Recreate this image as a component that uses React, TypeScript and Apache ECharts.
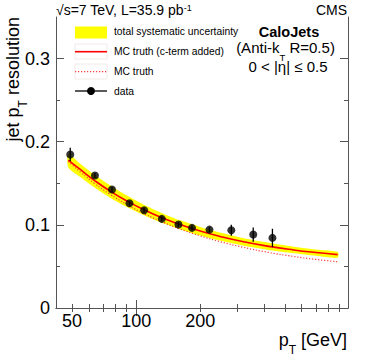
import React, { useEffect, useRef } from "react";
import * as echarts from "echarts";

// ---- data ----
const dataPt = [49, 64, 77, 93, 109, 132, 158, 183, 221, 280, 355, 437];
const dataRes = [0.1847, 0.1594, 0.1425, 0.126, 0.1176, 0.1072, 0.1004, 0.0964, 0.0943, 0.0935, 0.0883, 0.0843];
const dataErr = [0.008, 0.003, 0.003, 0.003, 0.003, 0.003, 0.003, 0.003, 0.003, 0.0065, 0.0085, 0.011];

const curvePt = [48, 55, 64, 75, 90, 110, 135, 160, 200, 250, 320, 420, 550, 700, 885];
const mcCterm = [0.178, 0.166, 0.153, 0.141, 0.129, 0.1175, 0.1076, 0.1005, 0.0925, 0.0858, 0.0796, 0.0741, 0.0698, 0.0667, 0.0642];
const mcTruth = [0.176, 0.163, 0.1495, 0.1372, 0.1248, 0.113, 0.1027, 0.0952, 0.0868, 0.0796, 0.0729, 0.0668, 0.062, 0.0584, 0.0556];
const bandLow = [0.169, 0.157, 0.1445, 0.133, 0.1218, 0.111, 0.1015, 0.0948, 0.0872, 0.0808, 0.0749, 0.0698, 0.0658, 0.0628, 0.0604];
const bandHigh = [0.185, 0.173, 0.16, 0.148, 0.1355, 0.1235, 0.1132, 0.1057, 0.0975, 0.0905, 0.0839, 0.0784, 0.0738, 0.0705, 0.0675];

const xLabelValues = [50, 100, 200];
const xMinorTicks = [50, 60, 70, 80, 90, 200, 300, 400, 500, 600, 700, 800, 900];
const xMajorTicks = [100];
const yLabelValues = [0, 0.1, 0.2, 0.3];
const yMinorTicks = [0.05, 0.15, 0.25];

const X_MIN = 42;
const X_MAX = 990;
const Y_MIN = 0;
const Y_MAX = 0.35;

const FONT = "'Liberation Sans', Arial, Helvetica, sans-serif";
const AXIS_COLOR = "#555";

export default function App() {
  const ref = useRef<HTMLDivElement>(null);

  useEffect(() => {
    if (!ref.current) return;
    const chart = echarts.init(ref.current, null, { renderer: "svg" });

    const xAxisBase = (position: string, ticks: number[], len: number, showLine: boolean, labels: boolean) => ({
      type: "log",
      min: X_MIN,
      max: X_MAX,
      position,
      z: 10,
      axisLine: { show: showLine, lineStyle: { color: AXIS_COLOR, width: 1 } },
      axisTick: { show: true, inside: true, length: len, customValues: ticks, lineStyle: { color: AXIS_COLOR, width: 1 } },
      axisLabel: labels
        ? {
            show: true,
            customValues: xLabelValues,
            fontSize: 18,
            fontFamily: FONT,
            color: "#000",
            margin: 4,
            formatter: (v: number) => String(Math.round(v)),
          }
        : { show: false },
      splitLine: { show: false },
      minorTick: { show: false },
    });

    const yAxisBase = (position: string, ticks: number[], len: number, showLine: boolean, labels: boolean) => ({
      type: "value",
      min: Y_MIN,
      max: Y_MAX,
      position,
      z: 10,
      axisLine: { show: showLine, lineStyle: { color: AXIS_COLOR, width: 1 } },
      axisTick: { show: true, inside: true, length: len, customValues: ticks, lineStyle: { color: AXIS_COLOR, width: 1 } },
      axisLabel: labels
        ? {
            show: true,
            customValues: yLabelValues,
            fontSize: 18,
            fontFamily: FONT,
            color: "#000",
            margin: 6,
            formatter: (v: number) => (v === 0 ? "0" : v.toFixed(1)),
          }
        : { show: false },
      splitLine: { show: false },
      minorTick: { show: false },
    });

    const curve = (vals: number[]) => curvePt.map((p, i) => [p, vals[i]]);

    const option: any = {
      animation: false,
      backgroundColor: "#fff",
      grid: { left: 56, right: 26, top: 17, bottom: 55, containLabel: false },
      xAxis: [
        xAxisBase("bottom", xMinorTicks, 4, true, true),
        xAxisBase("bottom", xMajorTicks, 8, false, false),
        xAxisBase("top", xMinorTicks, 4, true, false),
        xAxisBase("top", xMajorTicks, 8, false, false),
      ],
      yAxis: [
        yAxisBase("left", yLabelValues, 8, true, true),
        yAxisBase("left", yMinorTicks, 4, false, false),
        yAxisBase("right", yLabelValues, 8, true, false),
        yAxisBase("right", yMinorTicks, 4, false, false),
      ],
      series: [
        {
          type: "custom",
          name: "total systematic uncertainty",
          data: curvePt.map((p, i) => [p, bandLow[i], bandHigh[i]]),
          encode: { x: 0, y: [1, 2] },
          renderItem: (params: any, api: any) => {
            if (params.dataIndex !== 0) return null;
            const upper = curvePt.map((p, i) => api.coord([p, bandHigh[i]]));
            const lower = curvePt.map((p, i) => api.coord([p, bandLow[i]])).reverse();
            return {
              type: "polygon",
              shape: { points: upper.concat(lower), smooth: 0.25 },
              style: { fill: "#ffff00", stroke: "none" },
            };
          },
          silent: true,
          z: 1,
        },
        {
          type: "line",
          name: "MC truth",
          data: curve(mcTruth),
          smooth: true,
          symbol: "none",
          lineStyle: { color: "#ff3b3b", width: 1.2, type: [1.2, 1.8] },
          silent: true,
          z: 2,
        },
        {
          type: "line",
          name: "MC truth (c-term added)",
          data: curve(mcCterm),
          smooth: true,
          symbol: "none",
          lineStyle: { color: "#ff0000", width: 1.6 },
          silent: true,
          z: 3,
        },
        {
          type: "custom",
          name: "errors",
          data: dataPt.map((p, i) => [p, dataRes[i], dataErr[i]]),
          encode: { x: 0, y: 1 },
          renderItem: (params: any, api: any) => {
            const x = api.value(0);
            const y = api.value(1);
            const e = api.value(2);
            const a = api.coord([x, y + e]);
            const b = api.coord([x, y - e]);
            return {
              type: "line",
              shape: { x1: a[0], y1: a[1], x2: b[0], y2: b[1] },
              style: { stroke: "#000", lineWidth: 1.3 },
            };
          },
          silent: true,
          z: 4,
        },
        {
          type: "scatter",
          name: "data",
          data: dataPt.map((p, i) => [p, dataRes[i]]),
          symbol: "circle",
          symbolSize: 8,
          itemStyle: { color: "#000" },
          silent: true,
          z: 5,
        },
      ],
      graphic: [
        {
          type: "text",
          x: 56,
          y: 10,
          style: {
            text: "√s=7 TeV, L=35.9 pb{sup|-1}",
            fontSize: 14,
            fontFamily: FONT,
            fill: "#000",
            align: "left",
            verticalAlign: "middle",
            rich: { sup: { fontSize: 9, fontFamily: FONT, verticalAlign: "top", fill: "#000" } },
          },
        },
        {
          type: "text",
          x: 347,
          y: 10,
          style: { text: "CMS", fontSize: 14, fontFamily: FONT, fill: "#000", align: "right", verticalAlign: "middle" },
        },
        {
          type: "text",
          x: 13,
          y: 17,
          rotation: Math.PI / 2,
          style: {
            text: "jet p{sub|T} resolution",
            fontSize: 18,
            fontFamily: FONT,
            fill: "#000",
            align: "right",
            verticalAlign: "middle",
            rich: { sub: { fontSize: 12, fontFamily: FONT, verticalAlign: "top", padding: [20, 0, 0, 0], fill: "#000" } },
          },
        },
        {
          type: "text",
          x: 347,
          y: 340,
          style: {
            text: "p{sub|T} [GeV]",
            fontSize: 18,
            fontFamily: FONT,
            fill: "#000",
            align: "right",
            verticalAlign: "middle",
            rich: { sub: { fontSize: 12, fontFamily: FONT, verticalAlign: "top", padding: [20, 0, 0, 0], fill: "#000" } },
          },
        },
        {
          type: "text",
          x: 289,
          y: 31.5,
          style: { text: "CaloJets", fontSize: 14.5, fontWeight: "bold", fontFamily: FONT, fill: "#000", align: "center", verticalAlign: "middle" },
        },
        {
          type: "text",
          x: 285.5,
          y: 47.5,
          style: {
            text: "(Anti-k{sub|T} R=0.5)",
            fontSize: 15,
            fontFamily: FONT,
            fill: "#000",
            align: "center",
            verticalAlign: "middle",
            rich: { sub: { fontSize: 9.5, lineHeight: 9, fontFamily: FONT, verticalAlign: "top", padding: [12, 0, 0, 0], fill: "#000" } },
          },
        },
        {
          type: "text",
          x: 288,
          y: 66,
          style: { text: "0 < |η| ≤ 0.5", fontSize: 15, fontFamily: FONT, fill: "#000", align: "center", verticalAlign: "middle" },
        },
        { type: "rect", shape: { x: 75, y: 26.5, width: 32, height: 12 }, style: { fill: "#ffff00" } },
        { type: "rect", shape: { x: 75, y: 44, width: 32, height: 15 }, style: { fill: "none", stroke: "#f3eaea", lineWidth: 1 } },
        { type: "line", shape: { x1: 75, y1: 51.7, x2: 107, y2: 51.7 }, style: { stroke: "#ff0000", lineWidth: 1.6 } },
        { type: "rect", shape: { x: 75, y: 64, width: 32, height: 15 }, style: { fill: "none", stroke: "#f3eaea", lineWidth: 1 } },
        { type: "line", shape: { x1: 75, y1: 71.7, x2: 107, y2: 71.7 }, style: { stroke: "#ff3b3b", lineWidth: 1.2, lineDash: [1.2, 1.8] } },
        { type: "line", shape: { x1: 75, y1: 91, x2: 107, y2: 91 }, style: { stroke: "#000", lineWidth: 1.3 } },
        { type: "circle", shape: { cx: 91, cy: 91, r: 4 }, style: { fill: "#000" } },
        {
          type: "text",
          x: 114,
          y: 31.7,
          style: { text: "total systematic uncertainty", fontSize: 10.3, fontFamily: FONT, fill: "#000", verticalAlign: "middle" },
        },
        {
          type: "text",
          x: 114,
          y: 51.7,
          style: { text: "MC truth (c-term added)", fontSize: 10.3, fontFamily: FONT, fill: "#000", verticalAlign: "middle" },
        },
        {
          type: "text",
          x: 114,
          y: 71.7,
          style: { text: "MC truth", fontSize: 10.3, fontFamily: FONT, fill: "#000", verticalAlign: "middle" },
        },
        {
          type: "text",
          x: 114,
          y: 91,
          style: { text: "data", fontSize: 10.3, fontFamily: FONT, fill: "#000", verticalAlign: "middle" },
        },
      ],
    };

    chart.setOption(option);
    return () => chart.dispose();
  }, []);

  return (
    <div
      ref={ref}
      style={{ position: "fixed", left: 0, top: 0, width: 374, height: 363, background: "#fff" }}
    />
  );
}
